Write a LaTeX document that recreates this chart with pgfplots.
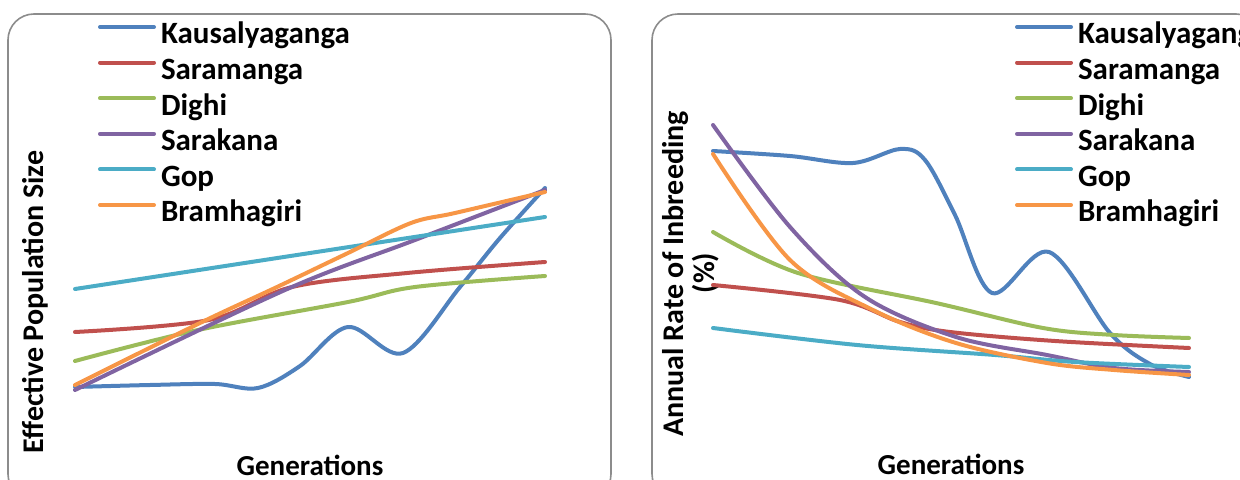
\documentclass[border=0pt]{standalone}
\usepackage{fontspec}
\setmainfont{Carlito}
\usepackage{pgfplots}
\pgfplotsset{compat=1.18}
\definecolor{cKau}{HTML}{4F81BD}
\definecolor{cSar}{HTML}{C0504D}
\definecolor{cDig}{HTML}{9BBB59}
\definecolor{cSak}{HTML}{8064A2}
\definecolor{cGop}{HTML}{4BACC6}
\definecolor{cBra}{HTML}{F79646}
\definecolor{boxgray}{HTML}{8C8C8C}
\newcommand{\lblfont}{\bfseries\fontsize{14.5}{16}\selectfont}
\newcommand{\ylblfont}{\bfseries\fontsize{15}{16}\selectfont}
\pgfplotsset{
  panel/.style={
    at={(0,0)}, anchor=south west,
    width=620pt, height=240pt, scale only axis,
    xmin=0, xmax=1240, ymin=0, ymax=480, y dir=reverse,
    axis lines=none, clip=false,
    legend cell align=left,
    legend image code/.code={\draw[##1, line width=2pt, line cap=round] (0pt,5pt) -- (27pt,5pt);},
    legend style={draw=none, fill=none, anchor=north west, inner sep=0pt, outer sep=0pt,
      font=\bfseries\fontsize{15.5}{17}\selectfont,
      row sep=2.8pt, column sep=0pt,
      /tikz/every odd column/.style={column sep=2.5pt},
      nodes={inner sep=0pt, text height=11pt, text depth=4pt}},
    every axis plot/.append style={smooth, tension=0.55, line width=2pt, line cap=round, line join=round, no markers},
  }
}
\begin{document}
\begin{tikzpicture}
\useasboundingbox (0,0) rectangle (620pt,240pt);
% ---------------- left panel ----------------
\begin{axis}[panel, legend style={at={(axis cs:98,22)}}]
\draw[boxgray, line width=0.8pt, rounded corners=13pt] (axis cs:8,14) rectangle (axis cs:611,500);
\node[rotate=90, font=\ylblfont] at (axis cs:35,302) {Effective Population Size};
\node[font=\lblfont] at (axis cs:310,465) {Generations};
\addplot[cKau] coordinates {(75,387) (150,385) (215,384) (258,388) (300,366) (348,327) (403,353) (460,287) (500,238) (545,188)};
\addlegendentry{Kausalyaganga}
\addplot[cSar] coordinates {(75,332) (209,320) (292,287) (407,273) (545,262)};
\addlegendentry{Saramanga}
\addplot[cDig] coordinates {(75,361) (198,330) (348,302) (415,287) (545,276)};
\addlegendentry{Dighi}
\addplot[cSak] coordinates {(75,390) (285,290) (415,240) (545,190)};
\addlegendentry{Sarakana}
\addplot[cGop] coordinates {(75,289) (310,253) (545,217)};
\addlegendentry{Gop}
\addplot[cBra] coordinates {(75,385) (200,323) (277,287) (348,253) (411,223) (455,213) (545,192)};
\addlegendentry{Bramhagiri}
\end{axis}
% ---------------- right panel ----------------
\begin{axis}[panel, legend style={at={(axis cs:1015,22)}}]
\draw[boxgray, line width=0.8pt, rounded corners=13pt] (axis cs:652,14) rectangle (axis cs:1262,500);
\node[rotate=90, font=\ylblfont] at (axis cs:675,274) {Annual Rate of Inbreeding};
\node[rotate=90, font=\ylblfont] at (axis cs:706,273) {(\%)};
\node[font=\lblfont] at (axis cs:951,464) {Generations};
\addplot[cKau] coordinates {(713,151) (790,156) (853,163) (900,149) (925,160) (955,215) (992,293) (1049,252) (1110,333) (1150,364) (1189,377)};
\addlegendentry{Kausalyaganga}
\addplot[cSar] coordinates {(713,285) (840,300) (900,322) (950,332) (1055,341) (1189,348)};
\addlegendentry{Saramanga}
\addplot[cDig] coordinates {(713,232) (798,273) (936,303) (1043,328) (1114,335) (1189,338)};
\addlegendentry{Dighi}
\addplot[cSak] coordinates {(713,125) (790,227) (865,297) (956,337) (1047,355) (1114,368) (1189,372)};
\addlegendentry{Sarakana}
\addplot[cGop] coordinates {(713,328) (857,345) (995,355) (1075,362) (1189,367)};
\addlegendentry{Gop}
\addplot[cBra] coordinates {(713,154) (790,260) (873,310) (956,343) (1047,363) (1114,370) (1189,375)};
\addlegendentry{Bramhagiri}
\end{axis}
\end{tikzpicture}
\end{document}
